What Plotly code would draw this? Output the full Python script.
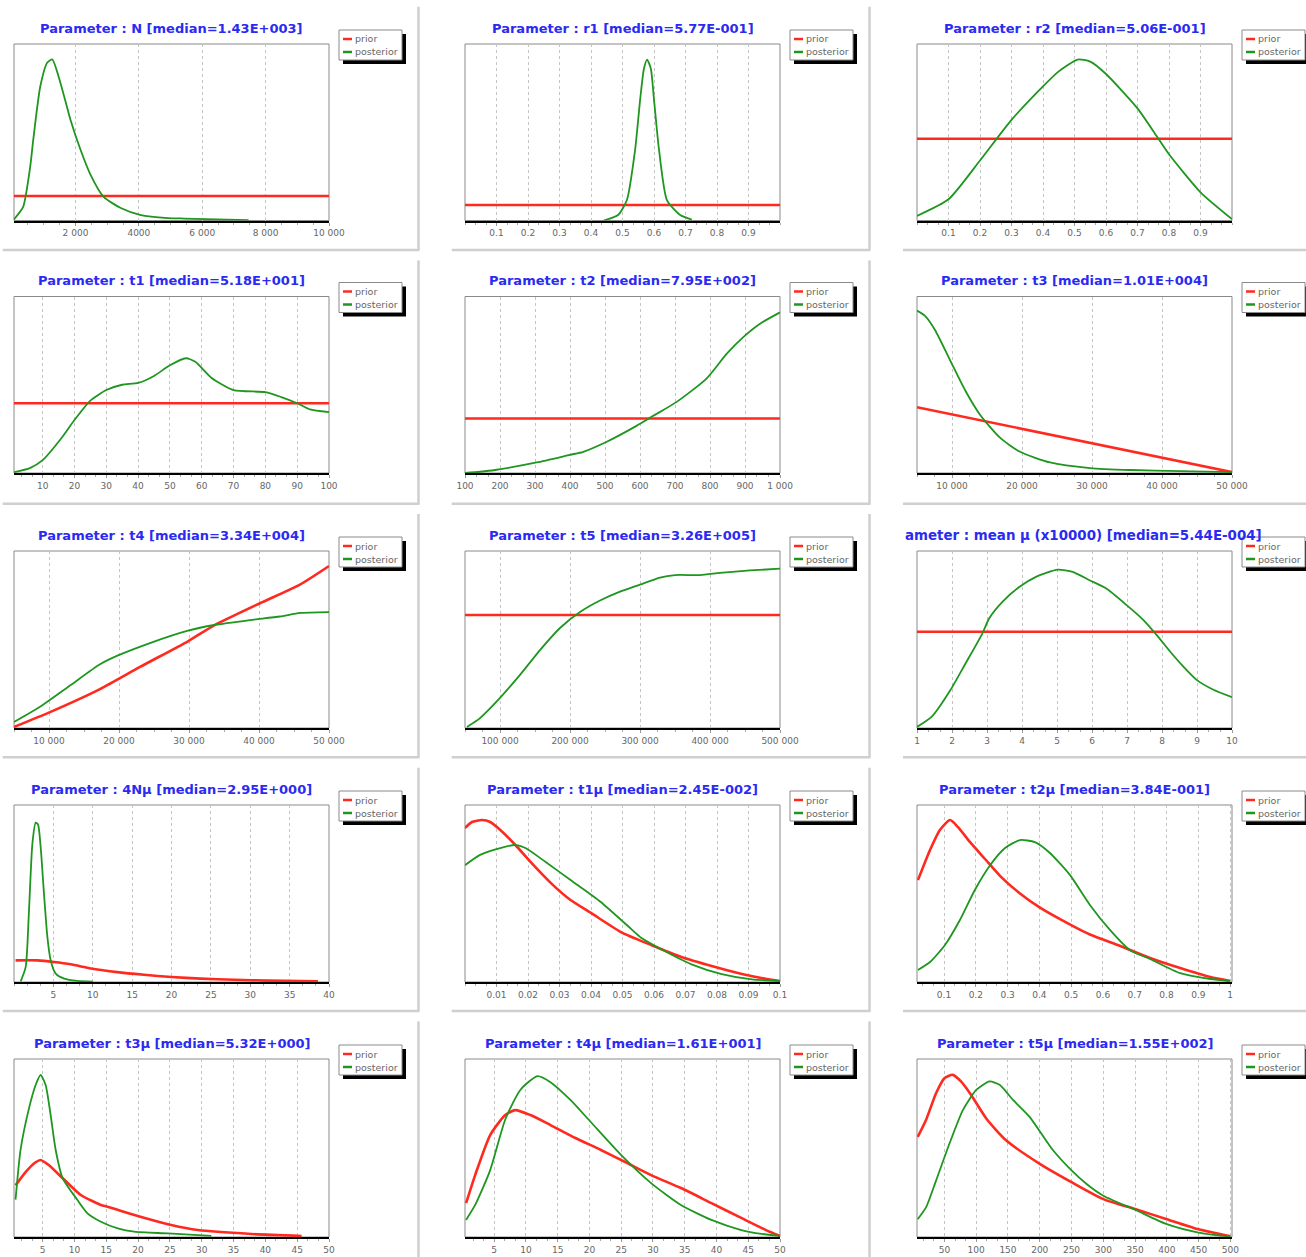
import plotly.graph_objects as go

W, H = 1306, 1257

# ---------------- data (x in parameter units, y in % of panel height) ----------------
titles = [
    "Parameter : N [median=1.43E+003]",
    "Parameter : r1 [median=5.77E-001]",
    "Parameter : r2 [median=5.06E-001]",
    "Parameter : t1 [median=5.18E+001]",
    "Parameter : t2 [median=7.95E+002]",
    "Parameter : t3 [median=1.01E+004]",
    "Parameter : t4 [median=3.34E+004]",
    "Parameter : t5 [median=3.26E+005]",
    "ameter : mean μ (x10000) [median=5.44E-004]",
    "Parameter : 4Nμ [median=2.95E+000]",
    "Parameter : t1μ [median=2.45E-002]",
    "Parameter : t2μ [median=3.84E-001]",
    "Parameter : t3μ [median=5.32E+000]",
    "Parameter : t4μ [median=1.61E+001]",
    "Parameter : t5μ [median=1.55E+002]",
]

x_ranges = [
    [60, 10000], [0, 1], [0, 1],
    [1, 100], [100, 1000], [5000, 50000],
    [5000, 50000], [50000, 500000], [1, 10],
    [0, 40], [0, 0.1], [0.015, 1.006],
    [0.5, 50], [0.4, 50], [6.8, 502.6],
]

tick_vals = [
    [2000, 4000, 6000, 8000, 10000],
    [0.1, 0.2, 0.3, 0.4, 0.5, 0.6, 0.7, 0.8, 0.9],
    [0.1, 0.2, 0.3, 0.4, 0.5, 0.6, 0.7, 0.8, 0.9],
    [10, 20, 30, 40, 50, 60, 70, 80, 90, 100],
    [100, 200, 300, 400, 500, 600, 700, 800, 900, 1000],
    [10000, 20000, 30000, 40000, 50000],
    [10000, 20000, 30000, 40000, 50000],
    [100000, 200000, 300000, 400000, 500000],
    [1, 2, 3, 4, 5, 6, 7, 8, 9, 10],
    [5, 10, 15, 20, 25, 30, 35, 40],
    [0.01, 0.02, 0.03, 0.04, 0.05, 0.06, 0.07, 0.08, 0.09, 0.1],
    [0.1, 0.2, 0.3, 0.4, 0.5, 0.6, 0.7, 0.8, 0.9, 1.0],
    [5, 10, 15, 20, 25, 30, 35, 40, 45, 50],
    [5, 10, 15, 20, 25, 30, 35, 40, 45, 50],
    [50, 100, 150, 200, 250, 300, 350, 400, 450, 500],
]

tick_text = [
    ["2 000", "4000", "6 000", "8 000", "10 000"],
    ["0.1", "0.2", "0.3", "0.4", "0.5", "0.6", "0.7", "0.8", "0.9"],
    ["0.1", "0.2", "0.3", "0.4", "0.5", "0.6", "0.7", "0.8", "0.9"],
    ["10", "20", "30", "40", "50", "60", "70", "80", "90", "100"],
    ["100", "200", "300", "400", "500", "600", "700", "800", "900", "1 000"],
    ["10 000", "20 000", "30 000", "40 000", "50 000"],
    ["10 000", "20 000", "30 000", "40 000", "50 000"],
    ["100 000", "200 000", "300 000", "400 000", "500 000"],
    ["1", "2", "3", "4", "5", "6", "7", "8", "9", "10"],
    ["5", "10", "15", "20", "25", "30", "35", "40"],
    ["0.01", "0.02", "0.03", "0.04", "0.05", "0.06", "0.07", "0.08", "0.09", "0.1"],
    ["0.1", "0.2", "0.3", "0.4", "0.5", "0.6", "0.7", "0.8", "0.9", "1"],
    ["5", "10", "15", "20", "25", "30", "35", "40", "45", "50"],
    ["5", "10", "15", "20", "25", "30", "35", "40", "45", "50"],
    ["50", "100", "150", "200", "250", "300", "350", "400", "450", "500"],
]

minor_dtick = [500, 0.1 / 3, 0.1 / 3, 10 / 3, 100 / 3, 2500, 2500, 25000, 1 / 3,
               5 / 3, 0.01 / 3, 0.1 / 3, 5 / 3, 5 / 3, 50 / 3]

prior_x = [
    [60, 10000],
    [0, 1],
    [0, 1],
    [1, 100],
    [100, 1000],
    [5000, 50000],
    [5000, 10143, 17286, 23000, 29857, 33600, 40143, 45857, 50000],
    [50000, 500000],
    [1, 10],
    [0.2, 2.97, 5.08, 7.2, 9.96, 13.1, 16.5, 20, 23.7, 28, 32.2, 38.6],
    [0, 0.0022, 0.0054, 0.008, 0.0112, 0.016, 0.0208, 0.0272, 0.0335, 0.04, 0.0495,
     0.0591, 0.0687, 0.0783, 0.0879, 0.0958, 0.1],
    [0.018, 0.056, 0.087, 0.119, 0.144, 0.182, 0.229, 0.276, 0.339, 0.402, 0.465,
     0.559, 0.653, 0.748, 0.843, 0.938, 1.0],
    [0.74, 2.32, 3.9, 4.68, 5.95, 8.15, 10.99, 14.15, 15.2, 20.5, 25.2, 29.4, 37.8, 45.7],
    [0.57, 2, 4.37, 6.74, 8.32, 10.7, 13.86, 17.8, 21.8, 25.7, 29.7, 34.4, 39.2, 43.9,
     47.8, 50],
    [7.9, 21, 36.8, 50, 63, 76, 92, 115.8, 147, 200, 250, 300, 350, 400, 450, 500],
]
prior_y = [
    [13.9, 13.9],
    [8.8, 8.8],
    [46.3, 46.3],
    [39.5, 39.5],
    [30.9, 30.9],
    [37.3, 0.5],
    [0.6, 9, 22, 34.5, 49, 58, 70.5, 81, 91.5],
    [63.8, 63.8],
    [54.4, 54.4],
    [12.2, 12.2, 11.3, 10, 7.5, 5.6, 4.1, 2.8, 1.9, 1.3, 0.75, 0.4],
    [87, 90.4, 91.5, 90.4, 85.9, 77.4, 67.8, 56, 46.3, 39, 28.2, 20.9, 14.1, 9, 4.5,
     1.7, 0.6],
    [57.6, 74.6, 85.9, 91.5, 87.5, 79, 69.5, 60, 50, 42, 35.5, 26.8, 20.5, 13.6,
     7.9, 2.8, 0.6],
    [29, 36.5, 42, 43.3, 40.4, 33, 23.6, 18, 17, 11.2, 6.7, 3.9, 1.7, 0.6],
    [19, 34.8, 57.3, 68.5, 71.3, 68.5, 62.9, 55.6, 48.9, 42, 34.8, 27.5, 19, 10.7,
     3.9, 0.6],
    [56.2, 65.7, 80.8, 89.2, 91.1, 87.4, 79.8, 66.6, 54.3, 41.1, 30.8, 21.3, 15.7,
     10, 4.3, 0.4],
]

post_x = [
    [60, 95, 349, 571, 667, 889, 1111, 1270, 1524, 1841, 2159, 2476, 2889, 3429, 4063,
     4921, 5429, 7460],
    [0.44, 0.486, 0.514, 0.54, 0.556, 0.568, 0.578, 0.59, 0.6, 0.616, 0.641, 0.683, 0.72],
    [0, 0.1, 0.2, 0.3, 0.4, 0.45, 0.51, 0.55, 0.6, 0.7, 0.76, 0.8, 0.9, 1.0],
    [1, 6, 10, 16, 20, 25, 30, 35, 40, 45, 50, 55, 58, 63, 70, 80, 85, 90, 94, 100],
    [100, 143, 186, 305, 400, 438, 505, 590, 638, 705, 790, 848, 895, 943, 1000],
    [5000, 6143, 7571, 9714, 11857, 14000, 16857, 19714, 24000, 29714, 35429, 42571,
     50000],
    [5000, 8714, 13000, 17286, 19857, 24429, 29857, 33600, 38714, 43000, 45857, 50000],
    [52857, 71429, 100000, 128571, 157143, 185714, 214286, 242857, 271429, 300000,
     328571, 350000, 385714, 414286, 457143, 500000],
    [1, 1.43, 1.96, 2.39, 2.87, 3.06, 3.44, 3.92, 4.40, 5.02, 5.45, 5.93, 6.41, 6.99,
     7.47, 7.85, 8.23, 8.61, 8.99, 9.47, 10],
    [0.85, 1.48, 1.9, 2.33, 2.75, 3.05, 3.39, 3.81, 4.24, 4.66, 5.3, 6.36, 8.05, 10],
    [0, 0.0048, 0.0112, 0.016, 0.0192, 0.0256, 0.0335, 0.0431, 0.0527, 0.0559, 0.0623,
     0.0719, 0.0815, 0.0911, 0.1],
    [0.018, 0.056, 0.103, 0.15, 0.197, 0.245, 0.292, 0.339, 0.386, 0.433, 0.496, 0.559,
     0.622, 0.685, 0.748, 0.843, 0.938, 1.0],
    [0.74, 1.53, 2.79, 3.9, 4.68, 5.47, 6.26, 7.05, 8.15, 10.47, 12.05, 14.15, 16.8,
     19.4, 24.7, 31.5],
    [0.57, 2, 4.37, 6.74, 9.11, 11.8, 13.86, 17, 20.2, 25, 29.7, 34.4, 39.2, 43.9, 47.1,
     50],
    [7.9, 21, 36.8, 57.9, 79, 100, 121, 136.8, 158, 184, 221, 250, 273.7, 300, 350, 400,
     450, 500],
]
post_y = [
    [0.5, 1.4, 7.7, 30.4, 45.7, 75.9, 89.5, 91.2, 78.1, 57.1, 40.1, 25.9, 13.4, 7.1, 3.1,
     1.4, 1.1, 0.2],
    [0, 3.1, 11.6, 40, 68.5, 86, 91.2, 86, 68.5, 40, 11.6, 3.1, 0.5],
    [2.6, 12, 34, 57, 76, 84.5, 91.2, 90, 83, 63.5, 48, 37.5, 16, 0.8],
    [0.5, 2.8, 7.3, 20, 30, 41, 47, 50, 51, 55, 61, 65, 63, 54, 47, 45.8, 43, 39.5, 36,
     34.5],
    [0, 0.7, 1.7, 6, 10.3, 12, 17.7, 26.7, 32.4, 40.3, 53.5, 67.6, 77, 84.6, 91],
    [92, 89, 81, 64, 47, 33, 20, 12, 6, 2.8, 1.7, 1.1, 0.5],
    [3.4, 12, 24, 36, 41, 48, 55, 58.2, 61, 63, 65, 65.5],
    [0.6, 5.6, 17, 30, 44, 56.5, 65.5, 72, 77, 81, 85, 86.4, 86.4, 87.6, 89, 90],
    [0.6, 6.6, 21.6, 36.6, 53.5, 61.9, 71.3, 79.7, 85.4, 89.5, 88.2, 83.5, 78.8, 69.4,
     61, 52.5, 43.2, 34.7, 27.2, 21.6, 17.4],
    [0.4, 8.4, 40, 77.9, 90, 89, 76, 49.7, 25.3, 12.2, 4.7, 1.9, 0.6, 0.2],
    [66, 71.8, 75.7, 77.4, 75.7, 67.8, 57.6, 45.2, 30, 25, 18.5, 10, 4.5, 1.5, 0.6],
    [6.8, 11.3, 20.9, 35, 52, 66, 75.7, 80.2, 79, 72.9, 60.5, 43.5, 29.4, 18, 13, 5, 1.7,
     0.6],
    [21, 49, 71.3, 85.4, 91, 85.4, 68.5, 48.9, 33, 20.8, 13.3, 8.6, 4.9, 3, 2, 0.6],
    [9.6, 18, 37.6, 66, 82.6, 90.4, 87, 77, 64.6, 46, 30.3, 18, 9.6, 3.9, 1.7, 0.6],
    [10, 16.6, 31.7, 52.5, 71.3, 82.6, 87.4, 85.5, 77, 67.5, 48.7, 37.4, 29.8, 23.2,
     15.3, 7.2, 2.5, 0.2],
]

series_names = ["prior", "posterior"]

# ---------------- layout geometry (pixels) ----------------
col_x0 = [14, 465, 917]
plot_w = 315
row_y0 = [44, 296.5, 551, 805, 1059]
row_h = [176.5, 176.5, 177, 177, 178]

RED = "#ff2a1f"
GREEN = "#1f961f"
BLUE = "#2a2af2"
FONT = "DejaVu Sans"


def px(x):
    return x / W


def py(y):
    return 1 - y / H


fig = go.Figure()
layout = dict(
    width=W, height=H, margin=dict(l=0, r=0, t=0, b=0, autoexpand=False),
    paper_bgcolor="white", plot_bgcolor="white", showlegend=False,
    font=dict(family=FONT, size=9, color="#555"),
)
shapes = []
annotations = []

for i in range(15):
    r, c = divmod(i, 3)
    x0 = col_x0[c]
    x1 = x0 + plot_w
    y0 = row_y0[r]
    y1 = y0 + row_h[r]
    sfx = "" if i == 0 else str(i + 1)
    xa, ya = "x" + sfx, "y" + sfx

    fig.add_trace(go.Scatter(
        x=prior_x[i], y=prior_y[i], mode="lines", name=series_names[0],
        line=dict(color=RED, width=2.6, shape="spline", smoothing=0.6),
        xaxis=xa, yaxis=ya, hoverinfo="skip"))
    fig.add_trace(go.Scatter(
        x=post_x[i], y=post_y[i], mode="lines", name=series_names[1],
        line=dict(color=GREEN, width=1.8, shape="spline", smoothing=0.6),
        xaxis=xa, yaxis=ya, hoverinfo="skip"))

    layout["xaxis" + sfx] = dict(
        domain=[px(x0), px(x1)], anchor=ya, range=x_ranges[i], automargin=False,
        tickmode="array", tickvals=tick_vals[i], ticktext=tick_text[i],
        showline=True, linecolor="black", linewidth=2, mirror=False,
        showgrid=True, gridcolor="#c4c4c4", griddash="dot", gridwidth=1,
        ticks="outside", ticklen=3, tickcolor="#999", tickwidth=1,
        minor=dict(ticks="outside", ticklen=2, tickcolor="#aaa", dtick=minor_dtick[i],
                   tick0=0, showgrid=False),
        tickfont=dict(family=FONT, size=9, color="#666"),
        zeroline=False, fixedrange=True,
    )
    layout["yaxis" + sfx] = dict(
        domain=[py(y1), py(y0)], anchor=xa, range=[0, 100], automargin=False,
        showticklabels=False, showgrid=False, zeroline=False, ticks="",
        showline=False, fixedrange=True,
    )

    # gray frame (top/left/right) of the plot area
    shapes.append(dict(type="rect", xref="paper", yref="paper",
                       x0=px(x0), x1=px(x1), y0=py(y1), y1=py(y0),
                       line=dict(color="#8a8a8a", width=1), layer="below"))

    # title
    tfont = dict(family=FONT, size=13, color=BLUE, weight="bold")
    if i == 8:
        annotations.append(dict(text=titles[i], xref="paper", yref="paper",
                                x=px(903), y=py(y0 - 16), xanchor="left", yanchor="middle",
                                showarrow=False, font=dict(family=FONT, size=13.4,
                                                           color=BLUE, weight="bold")))
    else:
        annotations.append(dict(text=titles[i], xref="paper", yref="paper",
                                x=px((x0 + x1) / 2), y=py(y0 - 16), xanchor="center",
                                yanchor="middle", showarrow=False, font=tfont))

    # legend box with shadow
    lx0, lx1 = x0 + 325, x0 + 388
    ly0, ly1 = y0 - 14, y0 + 16
    shapes.append(dict(type="rect", xref="paper", yref="paper",
                       x0=px(lx0 + 4), x1=px(lx1 + 4), y0=py(ly1 + 4), y1=py(ly0 + 4),
                       fillcolor="black", line=dict(width=0)))
    shapes.append(dict(type="rect", xref="paper", yref="paper",
                       x0=px(lx0), x1=px(lx1), y0=py(ly1), y1=py(ly0),
                       fillcolor="white", line=dict(color="#8a8a8a", width=1)))
    for k, (col, name) in enumerate([(RED, series_names[0]), (GREEN, series_names[1])]):
        yy = ly0 + 9 + k * 13
        shapes.append(dict(type="line", xref="paper", yref="paper",
                           x0=px(lx0 + 4), x1=px(lx0 + 13), y0=py(yy), y1=py(yy),
                           line=dict(color=col, width=2.5)))
        annotations.append(dict(text=name, xref="paper", yref="paper",
                                x=px(lx0 + 13.5), y=py(yy), xanchor="left", yanchor="middle",
                                showarrow=False,
                                font=dict(family=FONT, size=9.5, color="#666")))

# panel separators (light gray frames)
SEP = "#cfcfcf"
col_h_extent = [(2.7, 419.5), (451.7, 870.5), (903, 1306)]
col_v_x = [418.5, 869.5]
row_top = [6.7, 260.4, 514, 767.7, 1021.4]
row_bot = [250, 503.7, 757.3, 1011]
for c in range(3):
    for r in range(4):
        shapes.append(dict(type="line", xref="paper", yref="paper",
                           x0=px(col_h_extent[c][0]), x1=px(col_h_extent[c][1]),
                           y0=py(row_bot[r]), y1=py(row_bot[r]),
                           line=dict(color=SEP, width=2.5)))
for c in range(2):
    for r in range(5):
        yb = row_bot[r] if r < 4 else H
        shapes.append(dict(type="line", xref="paper", yref="paper",
                           x0=px(col_v_x[c]), x1=px(col_v_x[c]),
                           y0=py(row_top[r]), y1=py(yb),
                           line=dict(color=SEP, width=2.5)))

layout["shapes"] = shapes
layout["annotations"] = annotations
fig.update_layout(**layout)
fig.write_html("out.html")
